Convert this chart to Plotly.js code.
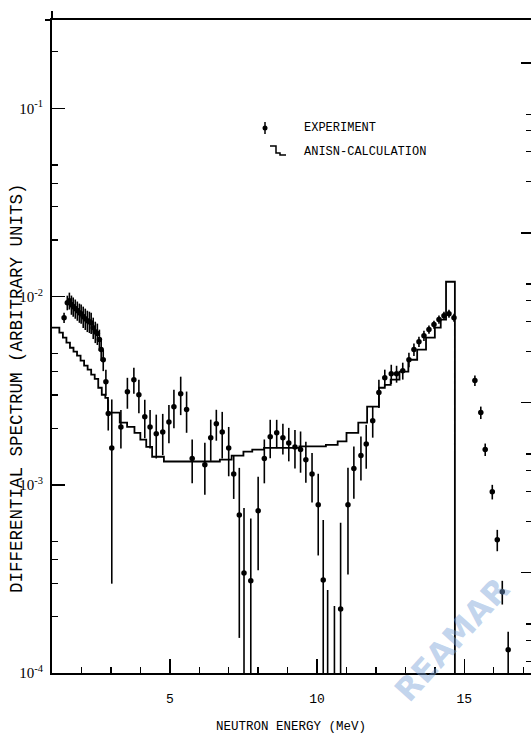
<!DOCTYPE html>
<html>
<head>
<meta charset="utf-8">
<script src="https://cdn.plot.ly/plotly-3.0.1.min.js"></script>
<style>
  html, body { margin: 0; padding: 0; background: #fff; }
  #chart { width: 531px; height: 737px; }
</style>
</head>
<body>
<div id="chart"></div>
<script>
// Measured neutron spectrum: energy (MeV), spectrum value and relative error
const expEnergy = [
  1.41, 1.52, 1.59, 1.66, 1.72, 1.79, 1.86, 1.93, 1.99, 2.06,
  2.13, 2.20, 2.27, 2.33, 2.40, 2.47, 2.54, 2.61, 2.67, 2.74,
  2.83, 2.91, 3.03, 3.34, 3.56, 3.78, 3.95, 4.15, 4.33, 4.54,
  4.76, 4.97, 5.14, 5.37, 5.57, 5.76, 6.19, 6.39, 6.58, 6.78,
  7.00, 7.17, 7.36, 7.52, 7.75, 8.00, 8.21, 8.41, 8.63, 8.84,
  9.04, 9.25, 9.44, 9.62, 9.83, 10.04, 10.21, 10.36, 10.59, 10.80,
  11.05, 11.25, 11.49, 11.67, 11.89, 12.10, 12.30, 12.52, 12.70, 12.91,
  13.12, 13.29, 13.46, 13.63, 13.80, 13.97, 14.14, 14.31, 14.48, 14.65,
  15.36, 15.56, 15.71, 15.95, 16.12, 16.29, 16.49
];
const expSpectrum = [
  7.73e-3, 9.29e-3, 9.52e-3, 9.07e-3, 8.85e-3, 8.64e-3, 8.43e-3, 8.22e-3, 8.12e-3, 7.83e-3,
  7.64e-3, 7.45e-3, 7.36e-3, 7.27e-3, 6.84e-3, 6.51e-3, 6.36e-3, 5.91e-3, 5.23e-3, 4.62e-3,
  3.53e-3, 2.39e-3, 1.57e-3, 2.03e-3, 3.12e-3, 3.62e-3, 3.01e-3, 2.30e-3, 2.03e-3, 1.87e-3,
  1.91e-3, 2.16e-3, 2.60e-3, 3.05e-3, 2.51e-3, 1.38e-3, 1.28e-3, 1.78e-3, 2.11e-3, 1.91e-3,
  1.57e-3, 1.14e-3, 6.92e-4, 3.40e-4, 3.09e-4, 7.27e-4, 1.38e-3, 1.80e-3, 1.89e-3, 1.78e-3,
  1.67e-3, 1.59e-3, 1.54e-3, 1.36e-3, 1.14e-3, 7.83e-4, 3.12e-4, 8.0e-5, 8.0e-5, 2.19e-4,
  7.83e-4, 1.22e-3, 1.43e-3, 1.65e-3, 2.19e-3, 3.09e-3, 3.71e-3, 3.89e-3, 3.89e-3, 4.04e-3,
  4.62e-3, 5.23e-3, 5.76e-3, 6.20e-3, 6.68e-3, 7.10e-3, 7.55e-3, 7.92e-3, 8.12e-3, 7.73e-3,
  3.58e-3, 2.42e-3, 1.54e-3, 9.18e-4, 5.10e-4, 2.70e-4, 1.33e-4
];
const expRelErr = [
  0.063, 0.089, 0.103, 0.117, 0.117, 0.117, 0.117, 0.117, 0.117, 0.130,
  0.130, 0.130, 0.130, 0.130, 0.130, 0.130, 0.130, 0.130, 0.130, 0.130,
  0.158, 0.187, 0.810, 0.231, 0.187, 0.158, 0.202, 0.231, 0.231, 0.262,
  0.247, 0.231, 0.231, 0.231, 0.247, 0.262, 0.309, 0.247, 0.187, 0.278,
  0.293, 0.262, 0.778, 1.216, 1.140, 0.516, 0.262, 0.231, 0.172, 0.187,
  0.202, 0.231, 0.247, 0.247, 0.293, 0.462, 1.085, 2.45, 1.84, 1.87,
  0.574, 0.309, 0.262, 0.262, 0.187, 0.172, 0.103, 0.117, 0.103, 0.103,
  0.089, 0.076, 0.063, 0.063, 0.050, 0.050, 0.050, 0.050, 0.050, 0.050,
  0.063, 0.076, 0.076, 0.089, 0.130, 0.144, 0.247
];

// ANISN calculation: group boundaries (MeV) and group spectrum values
const calcEdges = [
  1.00, 1.25, 1.37, 1.49, 1.61, 1.73, 1.85, 1.97, 2.09, 2.21,
  2.33, 2.45, 2.57, 2.69, 2.81, 2.90, 3.30, 3.55, 3.80, 4.00,
  4.20, 4.40, 4.80, 6.70, 7.10, 7.50, 7.80, 8.20, 9.40, 10.30,
  10.70, 11.00, 11.40, 11.70, 12.10, 12.30, 12.50, 12.80, 13.10, 13.40,
  13.70, 14.00, 14.20, 14.38, 14.68
];
const calcSpectrum = [
  6.84e-3, 6.43e-3, 6.05e-3, 5.69e-3, 5.35e-3, 5.10e-3, 4.86e-3, 4.57e-3, 4.30e-3, 4.09e-3,
  3.85e-3, 3.66e-3, 3.28e-3, 3.01e-3, 2.90e-3, 2.42e-3, 2.14e-3, 2.03e-3, 1.89e-3, 1.74e-3,
  1.59e-3, 1.41e-3, 1.33e-3, 1.36e-3, 1.43e-3, 1.50e-3, 1.54e-3, 1.57e-3, 1.60e-3, 1.63e-3,
  1.70e-3, 1.89e-3, 2.14e-3, 2.60e-3, 3.28e-3, 3.40e-3, 3.62e-3, 3.99e-3, 4.62e-3, 5.23e-3,
  6.05e-3, 6.84e-3, 7.55e-3, 1.20e-2
];

// Axis ticks
const xTickVals = [5, 10, 15];
const xTickText = ['5', '10', '15'];
const yTickVals = [1e-4, 1e-3, 1e-2, 1e-1];
const yTickText = ['10<sup>-4</sup>', '10<sup>-3</sup>', '10<sup>-2</sup>', '10<sup>-1</sup>'];
const yMinorMantissa = [2, 3, 4, 5];

const legendLabels = ['EXPERIMENT', 'ANISN-CALCULATION'];
const xTitle = 'NEUTRON ENERGY (MeV)';
const yTitle = 'DIFFERENTIAL SPECTRUM (ARBITRARY UNITS)';
const stampText = 'REAMAR';

// ---- plot geometry ----
const W = 531, H = 737;
const M = { l: 52, r: 0, t: 20, b: 64 };
const plotW = W - M.l - M.r, plotH = H - M.t - M.b;
const px = x => (x - M.l) / plotW;          // pixel -> paper (x)
const py = y => (H - M.b - y) / plotH;      // pixel -> paper (y)

const labelFont = 'Liberation Mono, DejaVu Sans Mono, monospace';

// error bars are symmetric in linear units; keep the lower end positive for the log axis
const errPlus = expSpectrum.map((v, i) => v * expRelErr[i]);
const errMinus = expSpectrum.map((v, i) => Math.min(v * expRelErr[i], v * 0.98));

// step histogram: repeat last value, then fall off the bottom of the axis
const calcX = calcEdges.slice();
const calcY = calcSpectrum.concat([1e-7]);

const yMinor = [];
yTickVals.forEach(d => yMinorMantissa.forEach(m => { if (d * m < 0.3) yMinor.push(d * m); }));
const y2Minor = [];
[1e-5, 1e-4, 1e-3, 1e-2, 1e-1].forEach(d => yMinorMantissa.forEach(m => y2Minor.push(d * m)));

const traces = [
  {
    x: calcX, y: calcY, type: 'scatter', mode: 'lines',
    line: { shape: 'hv', color: '#000', width: 1.8 },
    hoverinfo: 'skip', showlegend: false
  },
  {
    x: expEnergy, y: expSpectrum, type: 'scatter', mode: 'markers',
    marker: { color: '#000', size: 5.5, symbol: 'circle' },
    error_y: { type: 'data', symmetric: false, array: errPlus, arrayminus: errMinus,
               color: '#000', thickness: 1.6, width: 0 },
    showlegend: false
  },
  {
    // carries the right-hand frame scale (ticks only)
    x: [], y: [], yaxis: 'y2', type: 'scatter', mode: 'lines', showlegend: false, hoverinfo: 'skip'
  }
];

// hand-drawn style legend
const legX = 265, legY1 = 128, legY2 = 152, legTextX = 302;
const shapes = [
  { type: 'line', xref: 'paper', yref: 'paper', x0: px(legX), x1: px(legX),
    y0: py(legY1 - 6), y1: py(legY1 + 6), line: { color: '#000', width: 1.5 } },
  { type: 'circle', xref: 'paper', yref: 'paper', fillcolor: '#000',
    x0: px(legX - 2.5), x1: px(legX + 2.5), y0: py(legY1 - 2.5), y1: py(legY1 + 2.5),
    line: { color: '#000', width: 0 } },
  { type: 'path', xref: 'paper', yref: 'paper', line: { color: '#000', width: 1.5 },
    path: `M ${px(270)},${py(legY2 - 6)} L ${px(276)},${py(legY2 - 6)} L ${px(276)},${py(legY2 + 1)} ` +
          `L ${px(280)},${py(legY2 + 1)} L ${px(280)},${py(legY2 + 3)} L ${px(286)},${py(legY2 + 3)}` },
  // frame overshoots at the top-left corner
  { type: 'line', xref: 'paper', yref: 'paper', x0: px(52), x1: px(52), y0: py(20), y1: py(11),
    line: { color: '#000', width: 2 } },
  { type: 'line', xref: 'paper', yref: 'paper', x0: px(45), x1: px(52), y0: py(20), y1: py(20),
    line: { color: '#000', width: 2 } }
];

const annotations = [
  { text: legendLabels[0], xref: 'paper', yref: 'paper', x: px(legTextX), y: py(legY1),
    xanchor: 'left', yanchor: 'middle', showarrow: false, font: { family: labelFont, size: 12, color: '#000' } },
  { text: legendLabels[1], xref: 'paper', yref: 'paper', x: px(legTextX), y: py(legY2),
    xanchor: 'left', yanchor: 'middle', showarrow: false, font: { family: labelFont, size: 12, color: '#000' } },
  { text: xTitle, xref: 'paper', yref: 'paper', x: px(291), y: py(727),
    xanchor: 'center', yanchor: 'middle', showarrow: false, font: { family: labelFont, size: 12.5, color: '#000' } },
  { text: yTitle, xref: 'paper', yref: 'paper', x: px(17), y: py(388), textangle: -90,
    xanchor: 'center', yanchor: 'middle', showarrow: false, font: { family: labelFont, size: 17.5, color: '#000' } },
  { text: '<b>' + stampText + '</b>', xref: 'paper', yref: 'paper', x: px(452), y: py(640), textangle: -48,
    xanchor: 'center', yanchor: 'middle', showarrow: false,
    font: { family: 'DejaVu Sans, sans-serif', size: 32, color: 'rgba(120,160,215,0.45)' } }
];

const layout = {
  width: W, height: H,
  margin: M,
  paper_bgcolor: '#fff', plot_bgcolor: '#fff',
  showlegend: false,
  xaxis: {
    range: [1.0, 1.0 + plotW / 29.45],
    showgrid: false, zeroline: false,
    showline: true, linecolor: '#000', linewidth: 2, mirror: true,
    ticks: 'inside', ticklen: 14, tickwidth: 1.5, tickcolor: '#000',
    tickvals: xTickVals, ticktext: xTickText,
    ticklabelstandoff: 12,
    tickfont: { family: labelFont, size: 13, color: '#000' },
    minor: { dtick: 1, tick0: 0, ticks: 'inside', ticklen: 6, tickwidth: 1.3, tickcolor: '#000', showgrid: false }
  },
  yaxis: {
    type: 'log', range: [-4, -0.53],
    showgrid: false, zeroline: false,
    showline: true, linecolor: '#000', linewidth: 2, mirror: false,
    ticks: 'inside', ticklen: 13, tickwidth: 1.5, tickcolor: '#000',
    tickvals: yTickVals, ticktext: yTickText,
    ticklabelstandoff: 4,
    tickfont: { family: 'Liberation Serif, DejaVu Serif, serif', size: 15, color: '#000' },
    minor: { tickvals: yMinor, ticks: 'inside', ticklen: 6, tickwidth: 1.3, tickcolor: '#000', showgrid: false }
  },
  yaxis2: {
    type: 'log', range: [-4.59, -0.747], overlaying: 'y', side: 'right',
    showgrid: false, zeroline: false, showline: false,
    ticks: 'inside', ticklen: 10, tickwidth: 1.3, tickcolor: '#000',
    tickvals: [1e-4, 1e-3, 1e-2, 1e-1], showticklabels: false,
    minor: { tickvals: y2Minor, ticks: 'inside', ticklen: 5, tickwidth: 1.2, tickcolor: '#000', showgrid: false }
  },
  shapes: shapes,
  annotations: annotations
};

Plotly.newPlot('chart', traces, layout, { staticPlot: true, displayModeBar: false });
</script>
</body>
</html>
